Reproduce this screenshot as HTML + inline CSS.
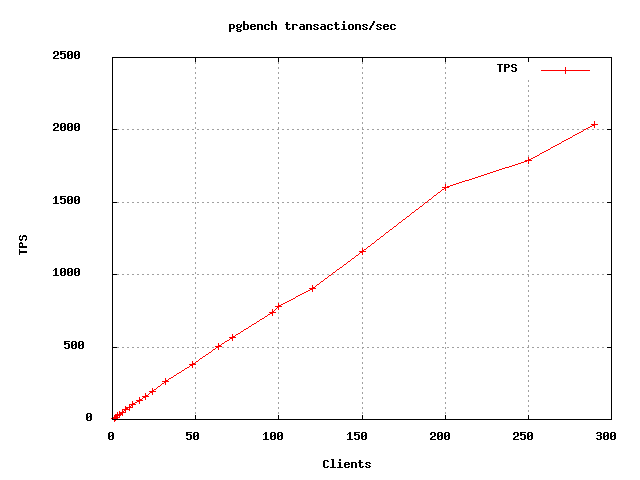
<!DOCTYPE html>
<html lang="en"><head><meta charset="utf-8"><title>pgbench transactions/sec</title>
<style>
html,body{margin:0;padding:0;background:#ffffff;}
body{width:640px;height:480px;overflow:hidden;position:relative;}
svg{display:block;position:absolute;left:0;top:0;}
.lbl{font-family:"Liberation Mono",monospace;font-weight:bold;font-size:11.67px;fill:#000000;fill-opacity:0;}
</style></head><body>
<svg width="640" height="480" viewBox="0 0 640 480" shape-rendering="crispEdges">
<rect x="0" y="0" width="640" height="480" fill="#ffffff"/>
<path id="grid" fill="#a0a0a0" stroke="none" d="M195 62h1v2h-1zM278 62h1v2h-1zM362 62h1v2h-1zM445 62h1v2h-1zM195 67h1v2h-1zM278 67h1v2h-1zM362 67h1v2h-1zM445 67h1v2h-1zM195 72h1v2h-1zM278 72h1v2h-1zM362 72h1v2h-1zM445 72h1v2h-1zM195 77h1v2h-1zM278 77h1v2h-1zM362 77h1v2h-1zM445 77h1v2h-1zM528 80h1v2h-1zM195 82h1v2h-1zM278 82h1v2h-1zM362 82h1v2h-1zM445 82h1v2h-1zM528 85h1v2h-1zM195 87h1v2h-1zM278 87h1v2h-1zM362 87h1v2h-1zM445 87h1v2h-1zM528 90h1v2h-1zM195 92h1v2h-1zM278 92h1v2h-1zM362 92h1v2h-1zM445 92h1v2h-1zM528 95h1v2h-1zM195 97h1v2h-1zM278 97h1v2h-1zM362 97h1v2h-1zM445 97h1v2h-1zM528 100h1v2h-1zM195 102h1v2h-1zM278 102h1v2h-1zM362 102h1v2h-1zM445 102h1v2h-1zM528 105h1v2h-1zM195 107h1v2h-1zM278 107h1v2h-1zM362 107h1v2h-1zM445 107h1v2h-1zM528 110h1v2h-1zM195 112h1v2h-1zM278 112h1v2h-1zM362 112h1v2h-1zM445 112h1v2h-1zM528 115h1v2h-1zM195 117h1v2h-1zM278 117h1v2h-1zM362 117h1v2h-1zM445 117h1v2h-1zM528 120h1v2h-1zM195 122h1v2h-1zM278 122h1v2h-1zM362 122h1v2h-1zM445 122h1v2h-1zM528 125h1v2h-1zM195 127h1v2h-1zM278 127h1v2h-1zM362 127h1v2h-1zM445 127h1v2h-1zM117 129h2v1h-2zM122 129h2v1h-2zM127 129h2v1h-2zM132 129h2v1h-2zM137 129h2v1h-2zM142 129h2v1h-2zM147 129h2v1h-2zM152 129h2v1h-2zM157 129h2v1h-2zM162 129h2v1h-2zM167 129h2v1h-2zM172 129h2v1h-2zM177 129h2v1h-2zM182 129h2v1h-2zM187 129h2v1h-2zM192 129h2v1h-2zM197 129h2v1h-2zM202 129h2v1h-2zM207 129h2v1h-2zM212 129h2v1h-2zM217 129h2v1h-2zM222 129h2v1h-2zM227 129h2v1h-2zM232 129h2v1h-2zM237 129h2v1h-2zM242 129h2v1h-2zM247 129h2v1h-2zM252 129h2v1h-2zM257 129h2v1h-2zM262 129h2v1h-2zM267 129h2v1h-2zM272 129h2v1h-2zM277 129h2v1h-2zM282 129h2v1h-2zM287 129h2v1h-2zM292 129h2v1h-2zM297 129h2v1h-2zM302 129h2v1h-2zM307 129h2v1h-2zM312 129h2v1h-2zM317 129h2v1h-2zM322 129h2v1h-2zM327 129h2v1h-2zM332 129h2v1h-2zM337 129h2v1h-2zM342 129h2v1h-2zM347 129h2v1h-2zM352 129h2v1h-2zM357 129h2v1h-2zM362 129h2v1h-2zM367 129h2v1h-2zM372 129h2v1h-2zM377 129h2v1h-2zM382 129h2v1h-2zM387 129h2v1h-2zM392 129h2v1h-2zM397 129h2v1h-2zM402 129h2v1h-2zM407 129h2v1h-2zM412 129h2v1h-2zM417 129h2v1h-2zM422 129h2v1h-2zM427 129h2v1h-2zM432 129h2v1h-2zM437 129h2v1h-2zM442 129h2v1h-2zM447 129h2v1h-2zM452 129h2v1h-2zM457 129h2v1h-2zM462 129h2v1h-2zM467 129h2v1h-2zM472 129h2v1h-2zM477 129h2v1h-2zM482 129h2v1h-2zM487 129h2v1h-2zM492 129h2v1h-2zM497 129h2v1h-2zM502 129h2v1h-2zM507 129h2v1h-2zM512 129h2v1h-2zM517 129h2v1h-2zM522 129h2v1h-2zM527 129h2v1h-2zM532 129h2v1h-2zM537 129h2v1h-2zM542 129h2v1h-2zM547 129h2v1h-2zM552 129h2v1h-2zM557 129h2v1h-2zM562 129h2v1h-2zM567 129h2v1h-2zM572 129h2v1h-2zM577 129h2v1h-2zM582 129h2v1h-2zM587 129h2v1h-2zM592 129h2v1h-2zM597 129h2v1h-2zM602 129h2v1h-2zM528 130h1v2h-1zM195 132h1v2h-1zM278 132h1v2h-1zM362 132h1v2h-1zM445 132h1v2h-1zM528 135h1v2h-1zM195 137h1v2h-1zM278 137h1v2h-1zM362 137h1v2h-1zM445 137h1v2h-1zM528 140h1v2h-1zM195 142h1v2h-1zM278 142h1v2h-1zM362 142h1v2h-1zM445 142h1v2h-1zM528 145h1v2h-1zM195 147h1v2h-1zM278 147h1v2h-1zM362 147h1v2h-1zM445 147h1v2h-1zM528 150h1v2h-1zM195 152h1v2h-1zM278 152h1v2h-1zM362 152h1v2h-1zM445 152h1v2h-1zM528 155h1v2h-1zM195 157h1v2h-1zM278 157h1v2h-1zM362 157h1v2h-1zM445 157h1v2h-1zM195 162h1v2h-1zM278 162h1v2h-1zM362 162h1v2h-1zM445 162h1v2h-1zM528 165h1v2h-1zM195 167h1v2h-1zM278 167h1v2h-1zM362 167h1v2h-1zM445 167h1v2h-1zM528 170h1v2h-1zM195 172h1v2h-1zM278 172h1v2h-1zM362 172h1v2h-1zM445 172h1v2h-1zM528 175h1v2h-1zM195 177h1v2h-1zM278 177h1v2h-1zM362 177h1v2h-1zM445 177h1v2h-1zM528 180h1v2h-1zM195 182h1v2h-1zM278 182h1v2h-1zM362 182h1v2h-1zM445 182h1v2h-1zM528 185h1v2h-1zM195 187h1v2h-1zM278 187h1v2h-1zM362 187h1v2h-1zM528 190h1v2h-1zM195 192h1v2h-1zM278 192h1v2h-1zM362 192h1v2h-1zM445 192h1v2h-1zM528 195h1v2h-1zM195 197h1v2h-1zM278 197h1v2h-1zM362 197h1v2h-1zM445 197h1v2h-1zM528 200h1v2h-1zM117 202h2v1h-2zM122 202h2v1h-2zM127 202h2v1h-2zM132 202h2v1h-2zM137 202h2v1h-2zM142 202h2v1h-2zM147 202h2v1h-2zM152 202h2v1h-2zM157 202h2v1h-2zM162 202h2v1h-2zM167 202h2v1h-2zM172 202h2v1h-2zM177 202h2v1h-2zM182 202h2v1h-2zM187 202h2v1h-2zM192 202h2v1h-2zM195 202h1v2h-1zM197 202h2v1h-2zM202 202h2v1h-2zM207 202h2v1h-2zM212 202h2v1h-2zM217 202h2v1h-2zM222 202h2v1h-2zM227 202h2v1h-2zM232 202h2v1h-2zM237 202h2v1h-2zM242 202h2v1h-2zM247 202h2v1h-2zM252 202h2v1h-2zM257 202h2v1h-2zM262 202h2v1h-2zM267 202h2v1h-2zM272 202h2v1h-2zM277 202h2v1h-2zM282 202h2v1h-2zM287 202h2v1h-2zM292 202h2v1h-2zM297 202h2v1h-2zM302 202h2v1h-2zM307 202h2v1h-2zM312 202h2v1h-2zM317 202h2v1h-2zM322 202h2v1h-2zM327 202h2v1h-2zM332 202h2v1h-2zM337 202h2v1h-2zM342 202h2v1h-2zM347 202h2v1h-2zM352 202h2v1h-2zM357 202h2v1h-2zM362 202h2v1h-2zM367 202h2v1h-2zM372 202h2v1h-2zM377 202h2v1h-2zM382 202h2v1h-2zM387 202h2v1h-2zM392 202h2v1h-2zM397 202h2v1h-2zM402 202h2v1h-2zM407 202h2v1h-2zM412 202h2v1h-2zM417 202h2v1h-2zM422 202h2v1h-2zM427 202h2v1h-2zM432 202h2v1h-2zM437 202h2v1h-2zM442 202h2v1h-2zM445 202h1v2h-1zM447 202h2v1h-2zM452 202h2v1h-2zM457 202h2v1h-2zM462 202h2v1h-2zM467 202h2v1h-2zM472 202h2v1h-2zM477 202h2v1h-2zM482 202h2v1h-2zM487 202h2v1h-2zM492 202h2v1h-2zM497 202h2v1h-2zM502 202h2v1h-2zM507 202h2v1h-2zM512 202h2v1h-2zM517 202h2v1h-2zM522 202h2v1h-2zM527 202h2v1h-2zM532 202h2v1h-2zM537 202h2v1h-2zM542 202h2v1h-2zM547 202h2v1h-2zM552 202h2v1h-2zM557 202h2v1h-2zM562 202h2v1h-2zM567 202h2v1h-2zM572 202h2v1h-2zM577 202h2v1h-2zM582 202h2v1h-2zM587 202h2v1h-2zM592 202h2v1h-2zM597 202h2v1h-2zM602 202h2v1h-2zM278 203h1v1h-1zM362 203h1v1h-1zM528 205h1v2h-1zM195 207h1v2h-1zM278 207h1v2h-1zM362 207h1v2h-1zM445 207h1v2h-1zM528 210h1v2h-1zM195 212h1v2h-1zM278 212h1v2h-1zM362 212h1v2h-1zM445 212h1v2h-1zM528 215h1v2h-1zM195 217h1v2h-1zM278 217h1v2h-1zM362 217h1v2h-1zM445 217h1v2h-1zM528 220h1v2h-1zM195 222h1v2h-1zM278 222h1v2h-1zM362 222h1v2h-1zM445 222h1v2h-1zM528 225h1v2h-1zM195 227h1v2h-1zM278 227h1v2h-1zM362 227h1v2h-1zM445 227h1v2h-1zM528 230h1v2h-1zM195 232h1v2h-1zM278 232h1v2h-1zM362 232h1v2h-1zM445 232h1v2h-1zM528 235h1v2h-1zM195 237h1v2h-1zM278 237h1v2h-1zM362 237h1v2h-1zM445 237h1v2h-1zM528 240h1v2h-1zM195 242h1v2h-1zM278 242h1v2h-1zM362 242h1v2h-1zM445 242h1v2h-1zM528 245h1v2h-1zM195 247h1v2h-1zM278 247h1v2h-1zM362 247h1v1h-1zM445 247h1v2h-1zM528 250h1v2h-1zM195 252h1v2h-1zM278 252h1v2h-1zM445 252h1v2h-1zM528 255h1v2h-1zM195 257h1v2h-1zM278 257h1v2h-1zM362 257h1v2h-1zM445 257h1v2h-1zM528 260h1v2h-1zM195 262h1v2h-1zM278 262h1v2h-1zM362 262h1v2h-1zM445 262h1v2h-1zM528 265h1v2h-1zM195 267h1v2h-1zM278 267h1v2h-1zM362 267h1v2h-1zM445 267h1v2h-1zM528 270h1v2h-1zM195 272h1v2h-1zM278 272h1v2h-1zM362 272h1v2h-1zM445 272h1v2h-1zM117 274h2v1h-2zM122 274h2v1h-2zM127 274h2v1h-2zM132 274h2v1h-2zM137 274h2v1h-2zM142 274h2v1h-2zM147 274h2v1h-2zM152 274h2v1h-2zM157 274h2v1h-2zM162 274h2v1h-2zM167 274h2v1h-2zM172 274h2v1h-2zM177 274h2v1h-2zM182 274h2v1h-2zM187 274h2v1h-2zM192 274h2v1h-2zM197 274h2v1h-2zM202 274h2v1h-2zM207 274h2v1h-2zM212 274h2v1h-2zM217 274h2v1h-2zM222 274h2v1h-2zM227 274h2v1h-2zM232 274h2v1h-2zM237 274h2v1h-2zM242 274h2v1h-2zM247 274h2v1h-2zM252 274h2v1h-2zM257 274h2v1h-2zM262 274h2v1h-2zM267 274h2v1h-2zM272 274h2v1h-2zM277 274h2v1h-2zM282 274h2v1h-2zM287 274h2v1h-2zM292 274h2v1h-2zM297 274h2v1h-2zM302 274h2v1h-2zM307 274h2v1h-2zM312 274h2v1h-2zM317 274h2v1h-2zM322 274h2v1h-2zM327 274h2v1h-2zM332 274h2v1h-2zM337 274h2v1h-2zM342 274h2v1h-2zM347 274h2v1h-2zM352 274h2v1h-2zM357 274h2v1h-2zM362 274h2v1h-2zM367 274h2v1h-2zM372 274h2v1h-2zM377 274h2v1h-2zM382 274h2v1h-2zM387 274h2v1h-2zM392 274h2v1h-2zM397 274h2v1h-2zM402 274h2v1h-2zM407 274h2v1h-2zM412 274h2v1h-2zM417 274h2v1h-2zM422 274h2v1h-2zM427 274h2v1h-2zM432 274h2v1h-2zM437 274h2v1h-2zM442 274h2v1h-2zM447 274h2v1h-2zM452 274h2v1h-2zM457 274h2v1h-2zM462 274h2v1h-2zM467 274h2v1h-2zM472 274h2v1h-2zM477 274h2v1h-2zM482 274h2v1h-2zM487 274h2v1h-2zM492 274h2v1h-2zM497 274h2v1h-2zM502 274h2v1h-2zM507 274h2v1h-2zM512 274h2v1h-2zM517 274h2v1h-2zM522 274h2v1h-2zM527 274h2v1h-2zM532 274h2v1h-2zM537 274h2v1h-2zM542 274h2v1h-2zM547 274h2v1h-2zM552 274h2v1h-2zM557 274h2v1h-2zM562 274h2v1h-2zM567 274h2v1h-2zM572 274h2v1h-2zM577 274h2v1h-2zM582 274h2v1h-2zM587 274h2v1h-2zM592 274h2v1h-2zM597 274h2v1h-2zM602 274h2v1h-2zM528 275h1v2h-1zM195 277h1v2h-1zM278 277h1v2h-1zM362 277h1v2h-1zM445 277h1v2h-1zM528 280h1v2h-1zM195 282h1v2h-1zM278 282h1v2h-1zM362 282h1v2h-1zM445 282h1v2h-1zM528 285h1v2h-1zM195 287h1v2h-1zM278 287h1v2h-1zM362 287h1v2h-1zM445 287h1v2h-1zM528 290h1v2h-1zM195 292h1v2h-1zM278 292h1v2h-1zM362 292h1v2h-1zM445 292h1v2h-1zM528 295h1v2h-1zM195 297h1v2h-1zM278 297h1v2h-1zM362 297h1v2h-1zM445 297h1v2h-1zM528 300h1v2h-1zM195 302h1v2h-1zM278 302h1v1h-1zM362 302h1v2h-1zM445 302h1v2h-1zM528 305h1v2h-1zM195 307h1v2h-1zM362 307h1v2h-1zM445 307h1v2h-1zM528 310h1v2h-1zM195 312h1v2h-1zM278 312h1v2h-1zM362 312h1v2h-1zM445 312h1v2h-1zM528 315h1v2h-1zM195 317h1v2h-1zM278 317h1v2h-1zM362 317h1v2h-1zM445 317h1v2h-1zM528 320h1v2h-1zM195 322h1v2h-1zM278 322h1v2h-1zM362 322h1v2h-1zM445 322h1v2h-1zM528 325h1v2h-1zM195 327h1v2h-1zM278 327h1v2h-1zM362 327h1v2h-1zM445 327h1v2h-1zM528 330h1v2h-1zM195 332h1v2h-1zM278 332h1v2h-1zM362 332h1v2h-1zM445 332h1v2h-1zM528 335h1v2h-1zM195 337h1v2h-1zM278 337h1v2h-1zM362 337h1v2h-1zM445 337h1v2h-1zM528 340h1v2h-1zM195 342h1v2h-1zM278 342h1v2h-1zM362 342h1v2h-1zM445 342h1v2h-1zM528 345h1v2h-1zM117 347h2v1h-2zM122 347h2v1h-2zM127 347h2v1h-2zM132 347h2v1h-2zM137 347h2v1h-2zM142 347h2v1h-2zM147 347h2v1h-2zM152 347h2v1h-2zM157 347h2v1h-2zM162 347h2v1h-2zM167 347h2v1h-2zM172 347h2v1h-2zM177 347h2v1h-2zM182 347h2v1h-2zM187 347h2v1h-2zM192 347h2v1h-2zM195 347h1v2h-1zM197 347h2v1h-2zM202 347h2v1h-2zM207 347h2v1h-2zM212 347h2v1h-2zM222 347h2v1h-2zM227 347h2v1h-2zM232 347h2v1h-2zM237 347h2v1h-2zM242 347h2v1h-2zM247 347h2v1h-2zM252 347h2v1h-2zM257 347h2v1h-2zM262 347h2v1h-2zM267 347h2v1h-2zM272 347h2v1h-2zM277 347h2v1h-2zM282 347h2v1h-2zM287 347h2v1h-2zM292 347h2v1h-2zM297 347h2v1h-2zM302 347h2v1h-2zM307 347h2v1h-2zM312 347h2v1h-2zM317 347h2v1h-2zM322 347h2v1h-2zM327 347h2v1h-2zM332 347h2v1h-2zM337 347h2v1h-2zM342 347h2v1h-2zM347 347h2v1h-2zM352 347h2v1h-2zM357 347h2v1h-2zM362 347h2v1h-2zM367 347h2v1h-2zM372 347h2v1h-2zM377 347h2v1h-2zM382 347h2v1h-2zM387 347h2v1h-2zM392 347h2v1h-2zM397 347h2v1h-2zM402 347h2v1h-2zM407 347h2v1h-2zM412 347h2v1h-2zM417 347h2v1h-2zM422 347h2v1h-2zM427 347h2v1h-2zM432 347h2v1h-2zM437 347h2v1h-2zM442 347h2v1h-2zM445 347h1v2h-1zM447 347h2v1h-2zM452 347h2v1h-2zM457 347h2v1h-2zM462 347h2v1h-2zM467 347h2v1h-2zM472 347h2v1h-2zM477 347h2v1h-2zM482 347h2v1h-2zM487 347h2v1h-2zM492 347h2v1h-2zM497 347h2v1h-2zM502 347h2v1h-2zM507 347h2v1h-2zM512 347h2v1h-2zM517 347h2v1h-2zM522 347h2v1h-2zM527 347h2v1h-2zM532 347h2v1h-2zM537 347h2v1h-2zM542 347h2v1h-2zM547 347h2v1h-2zM552 347h2v1h-2zM557 347h2v1h-2zM562 347h2v1h-2zM567 347h2v1h-2zM572 347h2v1h-2zM577 347h2v1h-2zM582 347h2v1h-2zM587 347h2v1h-2zM592 347h2v1h-2zM597 347h2v1h-2zM602 347h2v1h-2zM278 348h1v1h-1zM362 348h1v1h-1zM528 350h1v2h-1zM195 352h1v2h-1zM278 352h1v2h-1zM362 352h1v2h-1zM445 352h1v2h-1zM528 355h1v2h-1zM195 357h1v2h-1zM278 357h1v2h-1zM362 357h1v2h-1zM445 357h1v2h-1zM528 360h1v2h-1zM278 362h1v2h-1zM362 362h1v2h-1zM445 362h1v2h-1zM195 363h1v1h-1zM528 365h1v2h-1zM195 367h1v2h-1zM278 367h1v2h-1zM362 367h1v2h-1zM445 367h1v2h-1zM528 370h1v2h-1zM195 372h1v2h-1zM278 372h1v2h-1zM362 372h1v2h-1zM445 372h1v2h-1zM528 375h1v2h-1zM195 377h1v2h-1zM278 377h1v2h-1zM362 377h1v2h-1zM445 377h1v2h-1zM528 380h1v2h-1zM195 382h1v2h-1zM278 382h1v2h-1zM362 382h1v2h-1zM445 382h1v2h-1zM528 385h1v2h-1zM195 387h1v2h-1zM278 387h1v2h-1zM362 387h1v2h-1zM445 387h1v2h-1zM528 390h1v2h-1zM195 392h1v2h-1zM278 392h1v2h-1zM362 392h1v2h-1zM445 392h1v2h-1zM528 395h1v2h-1zM195 397h1v2h-1zM278 397h1v2h-1zM362 397h1v2h-1zM445 397h1v2h-1zM528 400h1v2h-1zM195 402h1v2h-1zM278 402h1v2h-1zM362 402h1v2h-1zM445 402h1v2h-1zM528 405h1v2h-1zM195 407h1v2h-1zM278 407h1v2h-1zM362 407h1v2h-1zM445 407h1v2h-1zM528 410h1v2h-1zM195 412h1v2h-1zM278 412h1v2h-1zM362 412h1v2h-1zM445 412h1v2h-1z"/>
<path id="series" fill="#ff0000" stroke="none" d="M565 67h1v3h-1zM541 70h49v1h-49zM565 71h1v3h-1zM594 121h1v3h-1zM591 124h7v1h-7zM592 125h3v1h-3zM590 126h2v1h-2zM594 126h1v2h-1zM588 127h2v1h-2zM586 128h2v1h-2zM584 129h2v1h-2zM583 130h1v1h-1zM581 131h2v1h-2zM579 132h2v1h-2zM577 133h2v1h-2zM575 134h2v1h-2zM573 135h2v1h-2zM572 136h1v1h-1zM570 137h2v1h-2zM568 138h2v1h-2zM566 139h2v1h-2zM564 140h2v1h-2zM562 141h2v1h-2zM561 142h1v1h-1zM559 143h2v1h-2zM557 144h2v1h-2zM555 145h2v1h-2zM553 146h2v1h-2zM551 147h2v1h-2zM550 148h1v1h-1zM548 149h2v1h-2zM546 150h2v1h-2zM544 151h2v1h-2zM542 152h2v1h-2zM540 153h2v1h-2zM539 154h1v1h-1zM537 155h2v1h-2zM535 156h2v1h-2zM528 157h1v2h-1zM533 157h2v1h-2zM531 158h2v1h-2zM528 159h3v1h-3zM525 160h7v1h-7zM524 161h3v1h-3zM528 161h1v3h-1zM521 162h3v1h-3zM518 163h3v1h-3zM515 164h3v1h-3zM512 165h3v1h-3zM509 166h3v1h-3zM505 167h4v1h-4zM502 168h3v1h-3zM499 169h3v1h-3zM496 170h3v1h-3zM493 171h3v1h-3zM490 172h3v1h-3zM487 173h3v1h-3zM484 174h3v1h-3zM481 175h3v1h-3zM478 176h3v1h-3zM475 177h3v1h-3zM472 178h3v1h-3zM469 179h3v1h-3zM465 180h4v1h-4zM462 181h3v1h-3zM459 182h3v1h-3zM456 183h3v1h-3zM445 184h1v3h-1zM453 184h3v1h-3zM450 185h3v1h-3zM447 186h3v1h-3zM442 187h7v1h-7zM444 188h2v1h-2zM442 189h2v1h-2zM445 189h1v2h-1zM441 190h1v1h-1zM440 191h1v1h-1zM438 192h2v1h-2zM437 193h1v1h-1zM436 194h1v1h-1zM434 195h2v1h-2zM433 196h1v1h-1zM432 197h1v1h-1zM431 198h1v1h-1zM429 199h2v1h-2zM428 200h1v1h-1zM427 201h1v1h-1zM425 202h2v1h-2zM424 203h1v1h-1zM423 204h1v1h-1zM422 205h1v1h-1zM420 206h2v1h-2zM419 207h1v1h-1zM418 208h1v1h-1zM416 209h2v1h-2zM415 210h1v1h-1zM414 211h1v1h-1zM412 212h2v1h-2zM411 213h1v1h-1zM410 214h1v1h-1zM409 215h1v1h-1zM407 216h2v1h-2zM406 217h1v1h-1zM405 218h1v1h-1zM403 219h2v1h-2zM402 220h1v1h-1zM401 221h1v1h-1zM399 222h2v1h-2zM398 223h1v1h-1zM397 224h1v1h-1zM396 225h1v1h-1zM394 226h2v1h-2zM393 227h1v1h-1zM392 228h1v1h-1zM390 229h2v1h-2zM389 230h1v1h-1zM388 231h1v1h-1zM386 232h2v1h-2zM385 233h1v1h-1zM384 234h1v1h-1zM383 235h1v1h-1zM381 236h2v1h-2zM380 237h1v1h-1zM379 238h1v1h-1zM377 239h2v1h-2zM376 240h1v1h-1zM375 241h1v1h-1zM374 242h1v1h-1zM372 243h2v1h-2zM371 244h1v1h-1zM370 245h1v1h-1zM368 246h2v1h-2zM367 247h1v1h-1zM362 248h1v2h-1zM366 248h1v1h-1zM364 249h2v1h-2zM362 250h2v1h-2zM359 251h7v1h-7zM360 252h3v1h-3zM359 253h1v1h-1zM362 253h1v2h-1zM358 254h1v1h-1zM356 255h2v1h-2zM355 256h1v1h-1zM354 257h1v1h-1zM352 258h2v1h-2zM351 259h1v1h-1zM350 260h1v1h-1zM348 261h2v1h-2zM347 262h1v1h-1zM346 263h1v1h-1zM344 264h2v1h-2zM343 265h1v1h-1zM342 266h1v1h-1zM340 267h2v1h-2zM339 268h1v1h-1zM337 269h2v1h-2zM336 270h1v1h-1zM335 271h1v1h-1zM333 272h2v1h-2zM332 273h1v1h-1zM331 274h1v1h-1zM329 275h2v1h-2zM328 276h1v1h-1zM327 277h1v1h-1zM325 278h2v1h-2zM324 279h1v1h-1zM323 280h1v1h-1zM321 281h2v1h-2zM320 282h1v1h-1zM319 283h1v1h-1zM317 284h2v1h-2zM312 285h1v2h-1zM316 285h1v1h-1zM315 286h1v1h-1zM312 287h3v1h-3zM309 288h7v1h-7zM310 289h3v1h-3zM308 290h2v1h-2zM312 290h1v2h-1zM306 291h2v1h-2zM304 292h2v1h-2zM302 293h2v1h-2zM300 294h2v1h-2zM298 295h2v1h-2zM296 296h2v1h-2zM295 297h1v1h-1zM293 298h2v1h-2zM291 299h2v1h-2zM289 300h2v1h-2zM287 301h2v1h-2zM285 302h2v1h-2zM278 303h1v2h-1zM283 303h2v1h-2zM281 304h2v1h-2zM278 305h3v1h-3zM275 306h7v1h-7zM277 307h2v1h-2zM276 308h1v1h-1zM278 308h1v2h-1zM272 309h1v2h-1zM275 309h1v1h-1zM274 310h1v1h-1zM272 311h2v1h-2zM269 312h7v1h-7zM270 313h3v1h-3zM268 314h2v1h-2zM272 314h1v2h-1zM267 315h1v1h-1zM265 316h2v1h-2zM264 317h1v1h-1zM262 318h2v1h-2zM260 319h2v1h-2zM259 320h1v1h-1zM257 321h2v1h-2zM256 322h1v1h-1zM254 323h2v1h-2zM252 324h2v1h-2zM251 325h1v1h-1zM249 326h2v1h-2zM248 327h1v1h-1zM246 328h2v1h-2zM244 329h2v1h-2zM243 330h1v1h-1zM241 331h2v1h-2zM240 332h1v1h-1zM238 333h2v1h-2zM232 334h1v2h-1zM236 334h2v1h-2zM235 335h1v1h-1zM232 336h3v1h-3zM229 337h7v1h-7zM230 338h3v1h-3zM229 339h1v1h-1zM232 339h1v2h-1zM227 340h2v1h-2zM225 341h2v1h-2zM224 342h1v1h-1zM218 343h1v2h-1zM222 343h2v1h-2zM221 344h1v1h-1zM218 345h3v1h-3zM215 346h7v1h-7zM216 347h3v1h-3zM215 348h1v1h-1zM218 348h1v2h-1zM213 349h2v1h-2zM212 350h1v1h-1zM211 351h1v1h-1zM209 352h2v1h-2zM208 353h1v1h-1zM206 354h2v1h-2zM205 355h1v1h-1zM203 356h2v1h-2zM202 357h1v1h-1zM200 358h2v1h-2zM199 359h1v1h-1zM198 360h1v1h-1zM192 361h1v2h-1zM196 361h2v1h-2zM195 362h1v1h-1zM192 363h3v1h-3zM189 364h7v1h-7zM190 365h3v1h-3zM189 366h1v1h-1zM192 366h1v2h-1zM187 367h2v1h-2zM185 368h2v1h-2zM184 369h1v1h-1zM182 370h2v1h-2zM181 371h1v1h-1zM179 372h2v1h-2zM177 373h2v1h-2zM176 374h1v1h-1zM174 375h2v1h-2zM173 376h1v1h-1zM171 377h2v1h-2zM165 378h1v2h-1zM169 378h2v1h-2zM168 379h1v1h-1zM165 380h3v1h-3zM162 381h7v1h-7zM164 382h2v1h-2zM162 383h2v1h-2zM165 383h1v2h-1zM161 384h1v1h-1zM160 385h1v1h-1zM158 386h2v1h-2zM157 387h1v1h-1zM152 388h1v2h-1zM156 388h1v1h-1zM154 389h2v1h-2zM152 390h2v1h-2zM149 391h7v1h-7zM150 392h3v1h-3zM145 393h1v2h-1zM149 393h1v1h-1zM152 393h1v2h-1zM148 394h1v1h-1zM145 395h3v1h-3zM142 396h7v1h-7zM139 397h1v2h-1zM143 397h3v1h-3zM142 398h1v1h-1zM145 398h1v2h-1zM139 399h3v1h-3zM136 400h7v1h-7zM132 401h1v2h-1zM137 401h3v1h-3zM135 402h2v1h-2zM139 402h1v2h-1zM132 403h3v1h-3zM129 404h7v1h-7zM129 405h1v1h-1zM131 405h2v1h-2zM125 406h1v1h-1zM129 406h2v1h-2zM132 406h1v1h-1zM125 407h8v1h-8zM125 408h3v1h-3zM129 408h1v1h-1zM122 409h8v1h-8zM122 410h1v1h-1zM124 410h2v1h-2zM129 410h1v1h-1zM119 411h1v1h-1zM122 411h2v1h-2zM125 411h1v1h-1zM117 412h1v2h-1zM119 412h7v1h-7zM119 413h4v1h-4zM115 414h8v1h-8zM114 415h7v1h-7zM122 415h1v1h-1zM114 416h4v1h-4zM119 416h1v1h-1zM113 417h7v1h-7zM111 418h1v1h-1zM113 418h5v1h-5zM114 420h2v1h-2zM114 421h1v1h-1z"/>
<path id="frame-and-labels" fill="#000000" stroke="none" d="M243 21h2v3h-2zM271 21h2v3h-2zM343 21h2v2h-2zM373 21h2v2h-2zM286 22h2v2h-2zM335 22h2v2h-2zM372 23h2v2h-2zM229 24h5v1h-5zM237 24h3v1h-3zM241 24h1v1h-1zM243 24h5v1h-5zM251 24h4v1h-4zM257 24h5v1h-5zM265 24h4v1h-4zM271 24h5v1h-5zM285 24h5v1h-5zM292 24h5v1h-5zM300 24h4v1h-4zM306 24h5v1h-5zM314 24h4v1h-4zM321 24h4v1h-4zM328 24h4v1h-4zM334 24h5v1h-5zM342 24h3v1h-3zM349 24h4v1h-4zM355 24h5v1h-5zM363 24h4v1h-4zM377 24h4v1h-4zM384 24h4v1h-4zM391 24h4v1h-4zM229 25h2v3h-2zM233 25h2v3h-2zM236 25h2v2h-2zM240 25h2v2h-2zM243 25h2v4h-2zM247 25h2v4h-2zM250 25h2v1h-2zM254 25h2v1h-2zM257 25h2v5h-2zM261 25h2v5h-2zM264 25h2v4h-2zM268 25h2v1h-2zM271 25h2v5h-2zM275 25h2v5h-2zM286 25h2v4h-2zM292 25h2v5h-2zM296 25h2v1h-2zM303 25h2v1h-2zM306 25h2v5h-2zM310 25h2v5h-2zM313 25h2v1h-2zM317 25h2v1h-2zM324 25h2v1h-2zM327 25h2v4h-2zM331 25h2v1h-2zM335 25h2v4h-2zM343 25h2v4h-2zM348 25h2v4h-2zM352 25h2v4h-2zM355 25h2v5h-2zM359 25h2v5h-2zM362 25h2v1h-2zM366 25h2v1h-2zM371 25h2v1h-2zM376 25h2v1h-2zM380 25h2v1h-2zM383 25h2v1h-2zM387 25h2v1h-2zM390 25h2v4h-2zM394 25h2v1h-2zM250 26h6v1h-6zM300 26h5v1h-5zM314 26h2v1h-2zM321 26h5v1h-5zM363 26h2v1h-2zM370 26h2v2h-2zM377 26h2v1h-2zM383 26h6v1h-6zM237 27h4v1h-4zM250 27h2v2h-2zM299 27h2v2h-2zM303 27h2v2h-2zM316 27h2v1h-2zM320 27h2v2h-2zM324 27h2v2h-2zM365 27h2v1h-2zM379 27h2v1h-2zM383 27h2v2h-2zM229 28h5v1h-5zM236 28h2v1h-2zM254 28h2v1h-2zM268 28h2v1h-2zM289 28h2v1h-2zM313 28h2v1h-2zM317 28h2v1h-2zM331 28h2v1h-2zM338 28h2v1h-2zM362 28h2v1h-2zM366 28h2v1h-2zM369 28h2v2h-2zM376 28h2v1h-2zM380 28h2v1h-2zM387 28h2v1h-2zM394 28h2v1h-2zM229 29h2v3h-2zM237 29h4v1h-4zM243 29h5v1h-5zM251 29h4v1h-4zM265 29h4v1h-4zM287 29h3v1h-3zM300 29h5v1h-5zM314 29h4v1h-4zM321 29h5v1h-5zM328 29h4v1h-4zM336 29h3v1h-3zM341 29h6v1h-6zM349 29h4v1h-4zM363 29h4v1h-4zM377 29h4v1h-4zM384 29h4v1h-4zM391 29h4v1h-4zM236 30h2v1h-2zM240 30h2v1h-2zM237 31h4v1h-4zM54 51h4v1h-4zM60 51h6v1h-6zM68 51h4v1h-4zM75 51h4v1h-4zM53 52h2v2h-2zM57 52h2v3h-2zM60 52h2v1h-2zM67 52h2v3h-2zM71 52h2v2h-2zM74 52h2v3h-2zM78 52h2v2h-2zM60 53h5v1h-5zM60 54h2v1h-2zM64 54h2v4h-2zM70 54h3v1h-3zM77 54h3v1h-3zM55 55h3v1h-3zM67 55h3v1h-3zM71 55h2v3h-2zM74 55h3v1h-3zM78 55h2v3h-2zM54 56h2v1h-2zM67 56h2v2h-2zM74 56h2v2h-2zM53 57h2v1h-2zM60 57h2v1h-2zM112 57h500v1h-500zM53 58h6v1h-6zM61 58h4v1h-4zM68 58h4v1h-4zM75 58h4v1h-4zM112 58h1v71h-1zM195 58h1v4h-1zM278 58h1v4h-1zM362 58h1v4h-1zM445 58h1v4h-1zM528 58h1v4h-1zM611 58h1v71h-1zM497 64h6v1h-6zM504 64h5v1h-5zM512 64h4v1h-4zM499 65h2v7h-2zM504 65h2v2h-2zM508 65h2v2h-2zM511 65h2v2h-2zM515 65h2v1h-2zM504 67h5v1h-5zM512 67h4v1h-4zM504 68h2v4h-2zM515 68h2v3h-2zM511 70h2v1h-2zM512 71h4v1h-4zM54 123h4v1h-4zM61 123h4v1h-4zM68 123h4v1h-4zM75 123h4v1h-4zM53 124h2v2h-2zM57 124h2v3h-2zM60 124h2v3h-2zM64 124h2v2h-2zM67 124h2v3h-2zM71 124h2v2h-2zM74 124h2v3h-2zM78 124h2v2h-2zM63 126h3v1h-3zM70 126h3v1h-3zM77 126h3v1h-3zM55 127h3v1h-3zM60 127h3v1h-3zM64 127h2v3h-2zM67 127h3v1h-3zM71 127h2v3h-2zM74 127h3v1h-3zM78 127h2v3h-2zM54 128h2v1h-2zM60 128h2v2h-2zM67 128h2v2h-2zM74 128h2v2h-2zM53 129h2v1h-2zM112 129h5v1h-5zM607 129h5v1h-5zM53 130h6v1h-6zM61 130h4v1h-4zM68 130h4v1h-4zM75 130h4v1h-4zM112 130h1v72h-1zM611 130h1v72h-1zM55 196h2v1h-2zM60 196h6v1h-6zM68 196h4v1h-4zM75 196h4v1h-4zM54 197h3v1h-3zM60 197h2v1h-2zM67 197h2v3h-2zM71 197h2v2h-2zM74 197h2v3h-2zM78 197h2v2h-2zM53 198h1v1h-1zM55 198h2v5h-2zM60 198h5v1h-5zM60 199h2v1h-2zM64 199h2v4h-2zM70 199h3v1h-3zM77 199h3v1h-3zM67 200h3v1h-3zM71 200h2v3h-2zM74 200h3v1h-3zM78 200h2v3h-2zM67 201h2v2h-2zM74 201h2v2h-2zM60 202h2v1h-2zM112 202h5v1h-5zM607 202h5v1h-5zM53 203h6v1h-6zM61 203h4v1h-4zM68 203h4v1h-4zM75 203h4v1h-4zM112 203h1v71h-1zM611 203h1v71h-1zM20 235h1v1h-1zM23 235h3v1h-3zM19 236h2v1h-2zM22 236h5v1h-5zM19 237h1v2h-1zM22 237h1v2h-1zM26 237h1v2h-1zM19 239h4v1h-4zM25 239h2v1h-2zM20 240h2v1h-2zM25 240h1v1h-1zM20 242h2v1h-2zM19 243h4v1h-4zM19 244h1v2h-1zM22 244h1v2h-1zM19 246h8v2h-8zM19 249h1v2h-1zM19 251h8v2h-8zM19 253h1v2h-1zM55 268h2v1h-2zM61 268h4v1h-4zM68 268h4v1h-4zM75 268h4v1h-4zM54 269h3v1h-3zM60 269h2v3h-2zM64 269h2v2h-2zM67 269h2v3h-2zM71 269h2v2h-2zM74 269h2v3h-2zM78 269h2v2h-2zM53 270h1v1h-1zM55 270h2v5h-2zM63 271h3v1h-3zM70 271h3v1h-3zM77 271h3v1h-3zM60 272h3v1h-3zM64 272h2v3h-2zM67 272h3v1h-3zM71 272h2v3h-2zM74 272h3v1h-3zM78 272h2v3h-2zM60 273h2v2h-2zM67 273h2v2h-2zM74 273h2v2h-2zM112 274h5v1h-5zM607 274h5v1h-5zM53 275h6v1h-6zM61 275h4v1h-4zM68 275h4v1h-4zM75 275h4v1h-4zM112 275h1v72h-1zM611 275h1v72h-1zM64 341h6v1h-6zM72 341h4v1h-4zM79 341h4v1h-4zM64 342h2v1h-2zM71 342h2v3h-2zM75 342h2v2h-2zM78 342h2v3h-2zM82 342h2v2h-2zM64 343h5v1h-5zM64 344h2v1h-2zM68 344h2v4h-2zM74 344h3v1h-3zM81 344h3v1h-3zM71 345h3v1h-3zM75 345h2v3h-2zM78 345h3v1h-3zM82 345h2v3h-2zM71 346h2v2h-2zM78 346h2v2h-2zM64 347h2v1h-2zM112 347h5v1h-5zM607 347h5v1h-5zM65 348h4v1h-4zM72 348h4v1h-4zM79 348h4v1h-4zM112 348h1v71h-1zM611 348h1v71h-1zM87 413h4v1h-4zM86 414h2v3h-2zM90 414h2v2h-2zM195 415h1v4h-1zM278 415h1v4h-1zM362 415h1v4h-1zM445 415h1v4h-1zM528 415h1v4h-1zM89 416h3v1h-3zM86 417h3v1h-3zM90 417h2v3h-2zM86 418h2v2h-2zM112 419h500v1h-500zM87 420h4v1h-4zM109 432h4v1h-4zM186 432h6v1h-6zM194 432h4v1h-4zM265 432h2v1h-2zM271 432h4v1h-4zM278 432h4v1h-4zM349 432h2v1h-2zM354 432h6v1h-6zM362 432h4v1h-4zM431 432h4v1h-4zM438 432h4v1h-4zM445 432h4v1h-4zM514 432h4v1h-4zM520 432h6v1h-6zM528 432h4v1h-4zM597 432h4v1h-4zM604 432h4v1h-4zM611 432h4v1h-4zM108 433h2v3h-2zM112 433h2v2h-2zM186 433h2v1h-2zM193 433h2v3h-2zM197 433h2v2h-2zM264 433h3v1h-3zM270 433h2v3h-2zM274 433h2v2h-2zM277 433h2v3h-2zM281 433h2v2h-2zM348 433h3v1h-3zM354 433h2v1h-2zM361 433h2v3h-2zM365 433h2v2h-2zM430 433h2v2h-2zM434 433h2v3h-2zM437 433h2v3h-2zM441 433h2v2h-2zM444 433h2v3h-2zM448 433h2v2h-2zM513 433h2v2h-2zM517 433h2v3h-2zM520 433h2v1h-2zM527 433h2v3h-2zM531 433h2v2h-2zM596 433h2v1h-2zM600 433h2v2h-2zM603 433h2v3h-2zM607 433h2v2h-2zM610 433h2v3h-2zM614 433h2v2h-2zM186 434h5v1h-5zM263 434h1v1h-1zM265 434h2v5h-2zM347 434h1v1h-1zM349 434h2v5h-2zM354 434h5v1h-5zM520 434h5v1h-5zM111 435h3v1h-3zM186 435h2v1h-2zM190 435h2v4h-2zM196 435h3v1h-3zM273 435h3v1h-3zM280 435h3v1h-3zM354 435h2v1h-2zM358 435h2v4h-2zM364 435h3v1h-3zM440 435h3v1h-3zM447 435h3v1h-3zM520 435h2v1h-2zM524 435h2v4h-2zM530 435h3v1h-3zM597 435h4v1h-4zM606 435h3v1h-3zM613 435h3v1h-3zM108 436h3v1h-3zM112 436h2v3h-2zM193 436h3v1h-3zM197 436h2v3h-2zM270 436h3v1h-3zM274 436h2v3h-2zM277 436h3v1h-3zM281 436h2v3h-2zM361 436h3v1h-3zM365 436h2v3h-2zM432 436h3v1h-3zM437 436h3v1h-3zM441 436h2v3h-2zM444 436h3v1h-3zM448 436h2v3h-2zM515 436h3v1h-3zM527 436h3v1h-3zM531 436h2v3h-2zM600 436h2v3h-2zM603 436h3v1h-3zM607 436h2v3h-2zM610 436h3v1h-3zM614 436h2v3h-2zM108 437h2v2h-2zM193 437h2v2h-2zM270 437h2v2h-2zM277 437h2v2h-2zM361 437h2v2h-2zM431 437h2v1h-2zM437 437h2v2h-2zM444 437h2v2h-2zM514 437h2v1h-2zM527 437h2v2h-2zM603 437h2v2h-2zM610 437h2v2h-2zM186 438h2v1h-2zM354 438h2v1h-2zM430 438h2v1h-2zM513 438h2v1h-2zM520 438h2v1h-2zM596 438h2v1h-2zM109 439h4v1h-4zM187 439h4v1h-4zM194 439h4v1h-4zM263 439h6v1h-6zM271 439h4v1h-4zM278 439h4v1h-4zM347 439h6v1h-6zM355 439h4v1h-4zM362 439h4v1h-4zM430 439h6v1h-6zM438 439h4v1h-4zM445 439h4v1h-4zM513 439h6v1h-6zM521 439h4v1h-4zM528 439h4v1h-4zM597 439h4v1h-4zM604 439h4v1h-4zM611 439h4v1h-4zM331 459h3v1h-3zM339 459h2v2h-2zM324 460h4v1h-4zM332 460h2v7h-2zM359 460h2v2h-2zM323 461h2v6h-2zM327 461h2v1h-2zM338 462h3v1h-3zM345 462h4v1h-4zM351 462h5v1h-5zM358 462h5v1h-5zM366 462h4v1h-4zM339 463h2v4h-2zM344 463h2v1h-2zM348 463h2v1h-2zM351 463h2v5h-2zM355 463h2v5h-2zM359 463h2v4h-2zM365 463h2v1h-2zM369 463h2v1h-2zM344 464h6v1h-6zM366 464h2v1h-2zM344 465h2v2h-2zM368 465h2v1h-2zM327 466h2v1h-2zM348 466h2v1h-2zM362 466h2v1h-2zM365 466h2v1h-2zM369 466h2v1h-2zM324 467h4v1h-4zM330 467h6v1h-6zM337 467h6v1h-6zM345 467h4v1h-4zM360 467h3v1h-3zM366 467h4v1h-4z"/>
<g class="lbl">
<text x="229" y="30">pgbench transactions/sec</text>
<text x="53" y="59">2500</text>
<text x="53" y="131">2000</text>
<text x="53" y="204">1500</text>
<text x="53" y="276">1000</text>
<text x="64" y="349">500</text>
<text x="86" y="421">0</text>
<text x="108" y="440">0</text>
<text x="186" y="440">50</text>
<text x="263" y="440">100</text>
<text x="347" y="440">150</text>
<text x="430" y="440">200</text>
<text x="513" y="440">250</text>
<text x="596" y="440">300</text>
<text x="323" y="468">Clients</text>
<text x="497" y="72">TPS</text>
<text transform="translate(27,255) rotate(-90)">TPS</text>
</g>
</svg>
</body></html>
